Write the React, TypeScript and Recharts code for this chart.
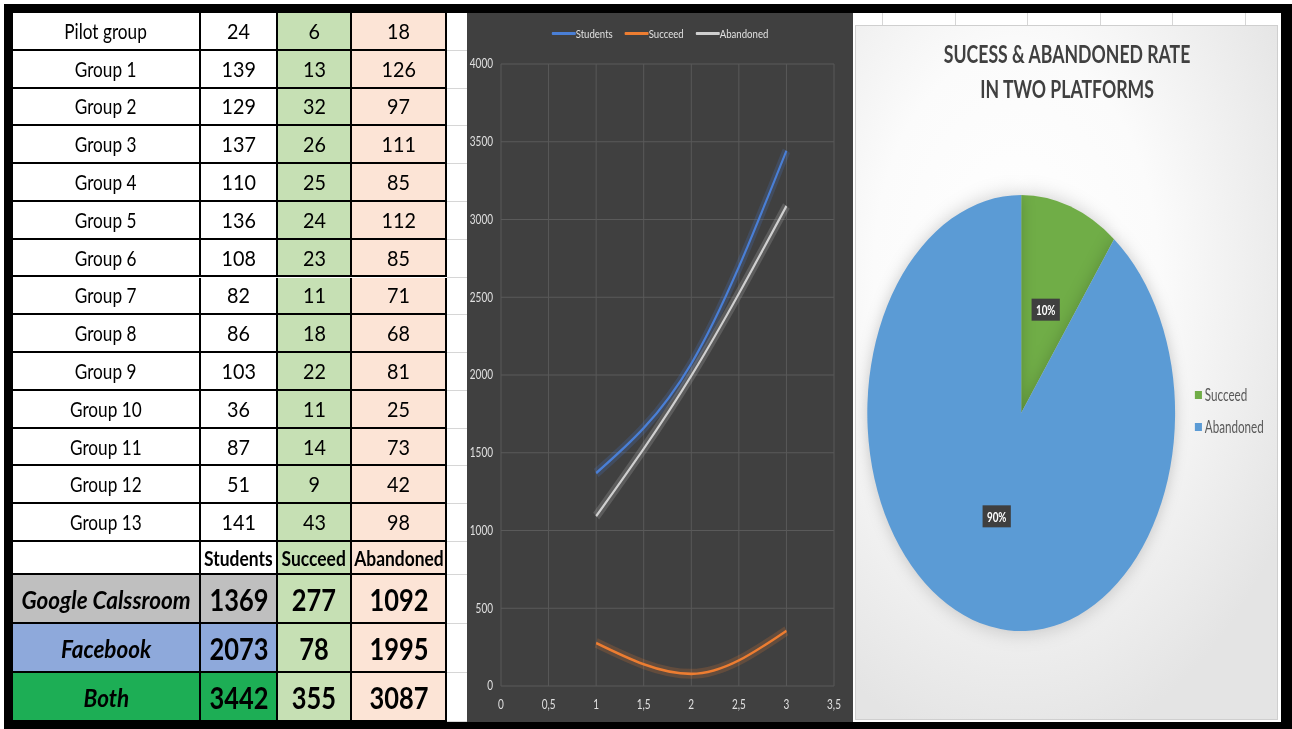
import React from 'react';
import { LineChart, Line, XAxis, YAxis, CartesianGrid, Legend, PieChart, Pie, Cell } from 'recharts';

// ---------- data ----------
const groupLabels = ['Pilot group', 'Group 1', 'Group 2', 'Group 3', 'Group 4', 'Group 5', 'Group 6', 'Group 7', 'Group 8', 'Group 9', 'Group 10', 'Group 11', 'Group 12', 'Group 13'];
const groupStudents = [24, 139, 129, 137, 110, 136, 108, 82, 86, 103, 36, 87, 51, 141];
const groupSucceed = [6, 13, 32, 26, 25, 24, 23, 11, 18, 22, 11, 14, 9, 43];
const groupAbandoned = [18, 126, 97, 111, 85, 112, 85, 71, 68, 81, 25, 73, 42, 98];

const headerLabels = ['Students', 'Succeed', 'Abandoned'];
const platformLabels = ['Google Calssroom', 'Facebook', 'Both'];
const platformStudents = [1369, 2073, 3442];
const platformSucceed = [277, 78, 355];
const platformAbandoned = [1092, 1995, 3087];

const lineX = [1, 2, 3];
const seriesNames = ['Students', 'Succeed', 'Abandoned'];
const xTicks = [0, 0.5, 1, 1.5, 2, 2.5, 3, 3.5];
const yTicks = [0, 500, 1000, 1500, 2000, 2500, 3000, 3500, 4000];

const pieTitle = ['SUCESS & ABANDONED RATE', 'IN TWO PLATFORMS'];
const pieLabels = ['Succeed', 'Abandoned'];
const pieValues = [355, 3087];

// ---------- styles ----------
const FONT = 'Lato, "Open Sans", sans-serif';
const GREEN_COL = '#C6E0B4';
const PEACH_COL = '#FCE4D6';
const platformColors = ['#BFBFBF', '#8EA9DB', '#1DAE55'];
const lineColors = ['#4A7FD6', '#ED7D31', '#CFCFCF'];
const pieColors = ['#70AD47', '#5B9BD5'];

const S_LINE = 0.8;
const S_PIE = 0.706;

const lineData = lineX.map((x, i) => ({
  x,
  Students: platformStudents[i],
  Succeed: platformSucceed[i],
  Abandoned: platformAbandoned[i],
}));

const pieData = pieLabels.map((name, i) => ({ name, value: pieValues[i] }));

// ---------- table ----------
const colX = [13, 201, 278, 352, 447];

function Txt({ children, sx, style }: any) {
  return (
    <span style={{ display: 'inline-block', transform: `scaleX(${sx})`, whiteSpace: 'nowrap', ...style }}>{children}</span>
  );
}

function Cell2({ x0, x1, y0, y1, bg, children }: any) {
  return (
    <div
      style={{
        position: 'absolute',
        left: x0,
        top: y0,
        width: x1 - x0,
        height: y1 - y0,
        background: bg,
        borderRight: '2px solid #000',
        borderBottom: '2px solid #000',
        boxSizing: 'border-box',
        display: 'flex',
        alignItems: 'center',
        justifyContent: 'center',
        color: '#000',
        fontFamily: FONT,
        overflow: 'visible',
      }}
    >
      {children}
    </div>
  );
}

function DataTable() {
  const top = 13;
  const rowH = (542 - top) / groupLabels.length;
  const cells: any[] = [];
  const rowBounds: number[] = [];
  groupLabels.forEach((g, i) => {
    const y0 = top + i * rowH;
    const y1 = top + (i + 1) * rowH;
    rowBounds.push(y1);
    const vals = [g, groupStudents[i], groupSucceed[i], groupAbandoned[i]];
    const bgs = ['#fff', '#fff', GREEN_COL, PEACH_COL];
    vals.forEach((v, c) => {
      cells.push(
        <Cell2 key={`r${i}c${c}`} x0={colX[c]} x1={colX[c + 1]} y0={y0} y1={y1} bg={bgs[c]}>
          <Txt sx={c === 0 ? 0.8 : 0.92} style={{ fontSize: 21.5 }}>{v}</Txt>
        </Cell2>
      );
    });
  });
  // header row
  const hy0 = 542;
  const hy1 = 575;
  rowBounds.push(hy1);
  const hbgs = ['#fff', '#fff', GREEN_COL, PEACH_COL];
  ['', ...headerLabels].forEach((h, c) => {
    cells.push(
      <Cell2 key={`h${c}`} x0={colX[c]} x1={colX[c + 1]} y0={hy0} y1={hy1} bg={hbgs[c]}>
        <Txt sx={0.83} style={{ fontSize: 21, fontWeight: 700 }}>{h}</Txt>
      </Cell2>
    );
  });
  // platform rows
  const pTops = [575, 624, 673, 722];
  platformLabels.forEach((p, i) => {
    const y0 = pTops[i];
    const y1 = pTops[i + 1];
    rowBounds.push(y1);
    const bgs = [platformColors[i], platformColors[i], GREEN_COL, PEACH_COL];
    const vals = [p, platformStudents[i], platformSucceed[i], platformAbandoned[i]];
    vals.forEach((v, c) => {
      cells.push(
        <Cell2 key={`p${i}c${c}`} x0={colX[c]} x1={colX[c + 1]} y0={y0} y1={y1} bg={bgs[c]}>
          {c === 0 ? (
            <Txt sx={0.9} style={{ fontSize: 25, fontWeight: 700, fontStyle: 'italic' }}>{v}</Txt>
          ) : (
            <Txt sx={0.82} style={{ fontSize: 31, fontWeight: 700 }}>{v}</Txt>
          )}
        </Cell2>
      );
    });
  });
  // spreadsheet grid beside table
  const gridLines = rowBounds.map((y, i) => (
    <div key={`gl${i}`} style={{ position: 'absolute', left: 447, top: y - 1, width: 20, height: 1, background: '#d6d6d6' }} />
  ));
  return (
    <>
      {gridLines}
      {cells}
    </>
  );
}

// ---------- line chart ----------
function LineLegend(props: any) {
  const items = (props.payload || [])
    .filter((p: any) => p.type !== 'none' && seriesNames.includes(String(p.value)))
    .sort((a: any, b: any) => seriesNames.indexOf(String(a.value)) - seriesNames.indexOf(String(b.value)));
  return (
    <div
      style={{
        display: 'flex',
        justifyContent: 'center',
        alignItems: 'center',
        height: 20,
        gap: 15,
        fontFamily: FONT,
        fontSize: 12,
        color: '#e0e0e0',
      }}
    >
      {items.map((it: any) => (
        <div key={it.value} style={{ display: 'flex', alignItems: 'center' }}>
          <span style={{ display: 'inline-block', width: 30, height: 3, background: it.color, borderRadius: 1 }} />
          <span>{it.value}</span>
        </div>
      ))}
    </div>
  );
}

function LinePanel() {
  const W = 386;
  const H = 709;
  const natW = W / S_LINE;
  return (
    <div style={{ position: 'absolute', left: 467, top: 13, width: W, height: H, overflow: 'hidden', background: '#404040' }}>
      <div style={{ width: natW, height: H, transform: `scaleX(${S_LINE})`, transformOrigin: '0 0' }}>
        <LineChart width={natW} height={H} data={lineData} margin={{ top: 31, right: natW - 458.75, bottom: 0, left: 0 }}>
          <CartesianGrid stroke="#5a5a5a" strokeWidth={1.2} />
          <XAxis
            type="number"
            dataKey="x"
            domain={[0, 3.5]}
            ticks={xTicks}
            interval={0}
            tickFormatter={(v: number) => String(v).replace('.', ',')}
            axisLine={false}
            tickLine={false}
            tickSize={0}
            tickMargin={14}
            height={36}
            tick={{ fill: '#e0e0e0', fontSize: 12.5, fontFamily: FONT }}
          />
          <YAxis
            type="number"
            domain={[0, 4000]}
            ticks={yTicks}
            interval={0}
            axisLine={false}
            tickLine={false}
            tickSize={0}
            tickMargin={10}
            width={42.5}
            tick={{ fill: '#e0e0e0', fontSize: 12.5, fontFamily: FONT }}
          />
          <Legend
            verticalAlign="top"
            align="center"
            content={<LineLegend />}
            wrapperStyle={{ top: 10, left: 0, width: natW, height: 20 }}
          />
          {seriesNames.map((s, i) => (
            <Line
              key={`glow-${s}`}
              name={`glow-${s}`}
              dataKey={s}
              type="monotone"
              stroke={lineColors[i]}
              strokeWidth={10}
              strokeOpacity={0.2}
              dot={false}
              activeDot={false}
              legendType="none"
              isAnimationActive={false}
            />
          ))}
          {seriesNames.map((s, i) => (
            <Line
              key={s}
              name={s}
              dataKey={s}
              type="monotone"
              stroke={lineColors[i]}
              strokeWidth={2.6}
              dot={false}
              activeDot={false}
              legendType="plainline"
              isAnimationActive={false}
            />
          ))}
        </LineChart>
      </div>
    </div>
  );
}

// ---------- pie chart ----------
function renderPieLabel(p: any) {
  const RAD = Math.PI / 180;
  const r = p.outerRadius * 0.5;
  const x = p.cx + r * Math.cos(-p.midAngle * RAD);
  const y = p.cy + r * Math.sin(-p.midAngle * RAD);
  const txt = `${Math.round(p.percent * 100)}%`;
  return (
    <g key={`lbl-${p.index}`}>
      <rect x={x - 20} y={y - 11} width={40} height={22} fill="#3f3f3f" />
      <text x={x} y={y} fill="#ffffff" textAnchor="middle" dominantBaseline="central" fontSize={14} fontWeight={700} fontFamily={FONT}>
        {txt}
      </text>
    </g>
  );
}

function PieLegend(props: any) {
  const items = (props.payload || [])
    .slice()
    .sort((a: any, b: any) => pieLabels.indexOf(String(a.value)) - pieLabels.indexOf(String(b.value)));
  return (
    <div style={{ fontFamily: FONT, fontSize: 16.5, color: '#595959' }}>
      {items.map((it: any) => (
        <div key={it.value} style={{ display: 'flex', alignItems: 'center', height: 32 }}>
          <span style={{ display: 'inline-block', width: 10, height: 8, background: it.color, marginRight: 4 }} />
          <span>{it.value}</span>
        </div>
      ))}
    </div>
  );
}

function PiePanel() {
  const W = 423;
  const H = 695;
  const natW = W / S_PIE;
  return (
    <div
      style={{
        position: 'absolute',
        left: 855,
        top: 25,
        width: W,
        height: H,
        overflow: 'hidden',
        background: 'radial-gradient(ellipse 75% 70% at 38% 35%, #ffffff 0%, #fbfbfb 45%, #e4e4e4 100%)',
        border: '1px solid #cfcfcf',
        boxSizing: 'border-box',
      }}
    >
      <div style={{ position: 'relative', width: natW, height: H, transform: `scaleX(${S_PIE})`, transformOrigin: '0 0' }}>
        <div
          style={{
            position: 'absolute',
            left: 0,
            top: 10,
            width: 598,
            textAlign: 'center',
            fontFamily: FONT,
            fontWeight: 700,
            fontSize: 25,
            lineHeight: '35px',
            color: '#404040',
          }}
        >
          {pieTitle.map((t) => (
            <div key={t}>{t}</div>
          ))}
        </div>
        <PieChart width={natW} height={H} margin={{ top: 0, right: 0, bottom: 0, left: 0 }}>
          <Pie
            data={pieData}
            dataKey="value"
            nameKey="name"
            cx={234}
            cy={387}
            outerRadius={218}
            startAngle={90}
            endAngle={-270}
            stroke="none"
            label={renderPieLabel}
            labelLine={false}
            isAnimationActive={false}
            style={{ filter: 'drop-shadow(0px 0px 10px rgba(0,0,0,0.2))' }}
          >
            {pieData.map((d, i) => (
              <Cell key={d.name} fill={pieColors[i]} />
            ))}
          </Pie>
          <Legend
            layout="vertical"
            verticalAlign="middle"
            align="right"
            content={<PieLegend />}
            wrapperStyle={{ left: 480, top: 353, width: 140 }}
          />
        </PieChart>
      </div>
    </div>
  );
}

// ---------- app ----------
export default function App() {
  const sheetLinesX = [882, 955, 1027, 1100, 1172, 1245];
  return (
    <div style={{ position: 'absolute', left: 0, top: 0, width: 1292, height: 729, background: '#ffffff', overflow: 'hidden' }}>
      {sheetLinesX.map((x) => (
        <div key={x} style={{ position: 'absolute', left: x, top: 13, width: 1, height: 12, background: '#d6d6d6' }} />
      ))}
      <DataTable />
      <LinePanel />
      <PiePanel />
      {/* outer black frame */}
      <div style={{ position: 'absolute', left: 4, top: 4, width: 1288, height: 9, background: '#000' }} />
      <div style={{ position: 'absolute', left: 4, top: 4, width: 9, height: 725, background: '#000' }} />
      <div style={{ position: 'absolute', left: 1281, top: 4, width: 11, height: 725, background: '#000' }} />
      <div style={{ position: 'absolute', left: 4, top: 722, width: 1288, height: 7, background: '#000' }} />
    </div>
  );
}
